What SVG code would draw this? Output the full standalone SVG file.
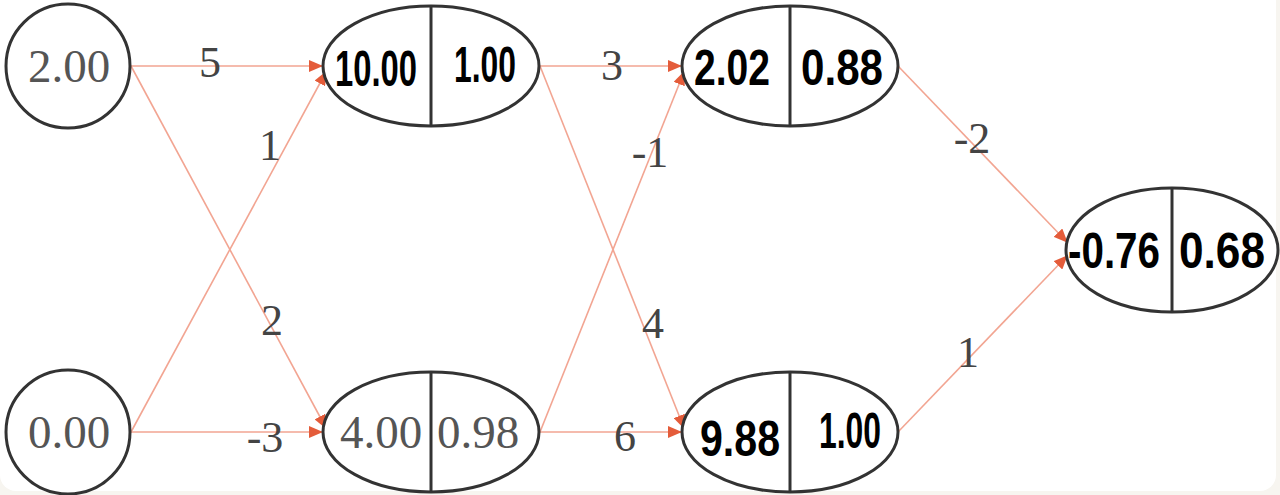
<svg xmlns="http://www.w3.org/2000/svg" width="1280" height="495" viewBox="0 0 1280 495">
  <style>
    .node { fill: #ffffff; stroke: #333333; stroke-width: 3; }
    .div { stroke: #333333; stroke-width: 3; }
    .val { font-family: "Liberation Serif", "Times New Roman", serif; font-size: 47px; fill: #555555; text-anchor: middle; }
    .hand { font-family: "Liberation Sans", Arial, sans-serif; font-weight: bold; font-size: 50px; fill: #000000; text-anchor: middle; }
    .edge { stroke: #f2a592; stroke-width: 1.6; fill: none; marker-end: url(#arrow); }
    .lbl { font-family: "Liberation Serif", "Times New Roman", serif; font-size: 44px; fill: #444444; text-anchor: middle; }
  </style>
  <defs>
    <marker id="arrow" markerUnits="userSpaceOnUse" markerWidth="14" markerHeight="12" viewBox="0 0 14 12" refX="13" refY="6" orient="auto">
      <path d="M0,0 L14,6 L0,12 Z" fill="#e45c3a"/>
    </marker>
  </defs>
  <rect x="0" y="0" width="1280" height="495" fill="#f7f5f0"/>
  <rect x="0" y="-20" width="1276" height="511" rx="16" fill="#ffffff"/>

  <g id="connectors">
    <line class="edge" x1="131" y1="66" x2="322" y2="66"/>
    <line class="edge" x1="131" y1="66" x2="326" y2="428"/>
    <line class="edge" x1="131" y1="432" x2="326" y2="72"/>
    <line class="edge" x1="131" y1="432" x2="322" y2="432"/>
    <line class="edge" x1="540" y1="66" x2="681" y2="66"/>
    <line class="edge" x1="540" y1="66" x2="684" y2="428"/>
    <line class="edge" x1="540" y1="432" x2="684" y2="72"/>
    <line class="edge" x1="540" y1="432" x2="681" y2="432"/>
    <line class="edge" x1="898" y1="66" x2="1067" y2="242"/>
    <line class="edge" x1="898" y1="432" x2="1067" y2="256"/>
    <text class="lbl" x="210" y="77">5</text>
    <text class="lbl" x="272" y="335">2</text>
    <text class="lbl" x="270" y="160">1</text>
    <text class="lbl" x="265" y="452">-3</text>
    <text class="lbl" x="612" y="80">3</text>
    <text class="lbl" x="653" y="338">4</text>
    <text class="lbl" x="650" y="167">-1</text>
    <text class="lbl" x="625" y="451">6</text>
    <text class="lbl" x="972" y="153">-2</text>
    <text class="lbl" x="968" y="367">1</text>
  </g>

  <g id="in1">
    <circle class="node" cx="68" cy="66" r="62"/>
    <text class="val" x="69" y="82">2.00</text>
  </g>
  <g id="in2">
    <circle class="node" cx="68" cy="432" r="62"/>
    <text class="val" x="69" y="448">0.00</text>
  </g>

  <g id="h1a">
    <ellipse class="node" cx="431" cy="66" rx="108" ry="60"/>
    <line class="div" x1="431" y1="6" x2="431" y2="126"/>
    <text class="hand" x="376" y="86" textLength="82" lengthAdjust="spacingAndGlyphs">10.00</text>
    <text class="hand" x="485" y="82" textLength="62" lengthAdjust="spacingAndGlyphs">1.00</text>
  </g>
  <g id="h1b">
    <ellipse class="node" cx="431" cy="432" rx="108" ry="60"/>
    <line class="div" x1="431" y1="372" x2="431" y2="492"/>
    <text class="val" x="381" y="448">4.00</text>
    <text class="val" x="478" y="448">0.98</text>
  </g>

  <g id="h2a">
    <ellipse class="node" cx="790" cy="66" rx="108" ry="60"/>
    <line class="div" x1="790" y1="6" x2="790" y2="126"/>
    <text class="hand" x="732" y="85" textLength="76" lengthAdjust="spacingAndGlyphs">2.02</text>
    <text class="hand" x="842" y="85" textLength="82" lengthAdjust="spacingAndGlyphs">0.88</text>
  </g>
  <g id="h2b">
    <ellipse class="node" cx="790" cy="432" rx="108" ry="60"/>
    <line class="div" x1="790" y1="372" x2="790" y2="492"/>
    <text class="hand" x="740" y="456" textLength="80" lengthAdjust="spacingAndGlyphs">9.88</text>
    <text class="hand" x="850" y="448" textLength="62" lengthAdjust="spacingAndGlyphs">1.00</text>
  </g>

  <g id="out">
    <ellipse class="node" cx="1172" cy="250" rx="106" ry="62"/>
    <line class="div" x1="1172" y1="188" x2="1172" y2="312"/>
    <text class="hand" x="1114" y="268" textLength="92" lengthAdjust="spacingAndGlyphs">-0.76</text>
    <text class="hand" x="1222" y="268" textLength="86" lengthAdjust="spacingAndGlyphs">0.68</text>
  </g>
</svg>
